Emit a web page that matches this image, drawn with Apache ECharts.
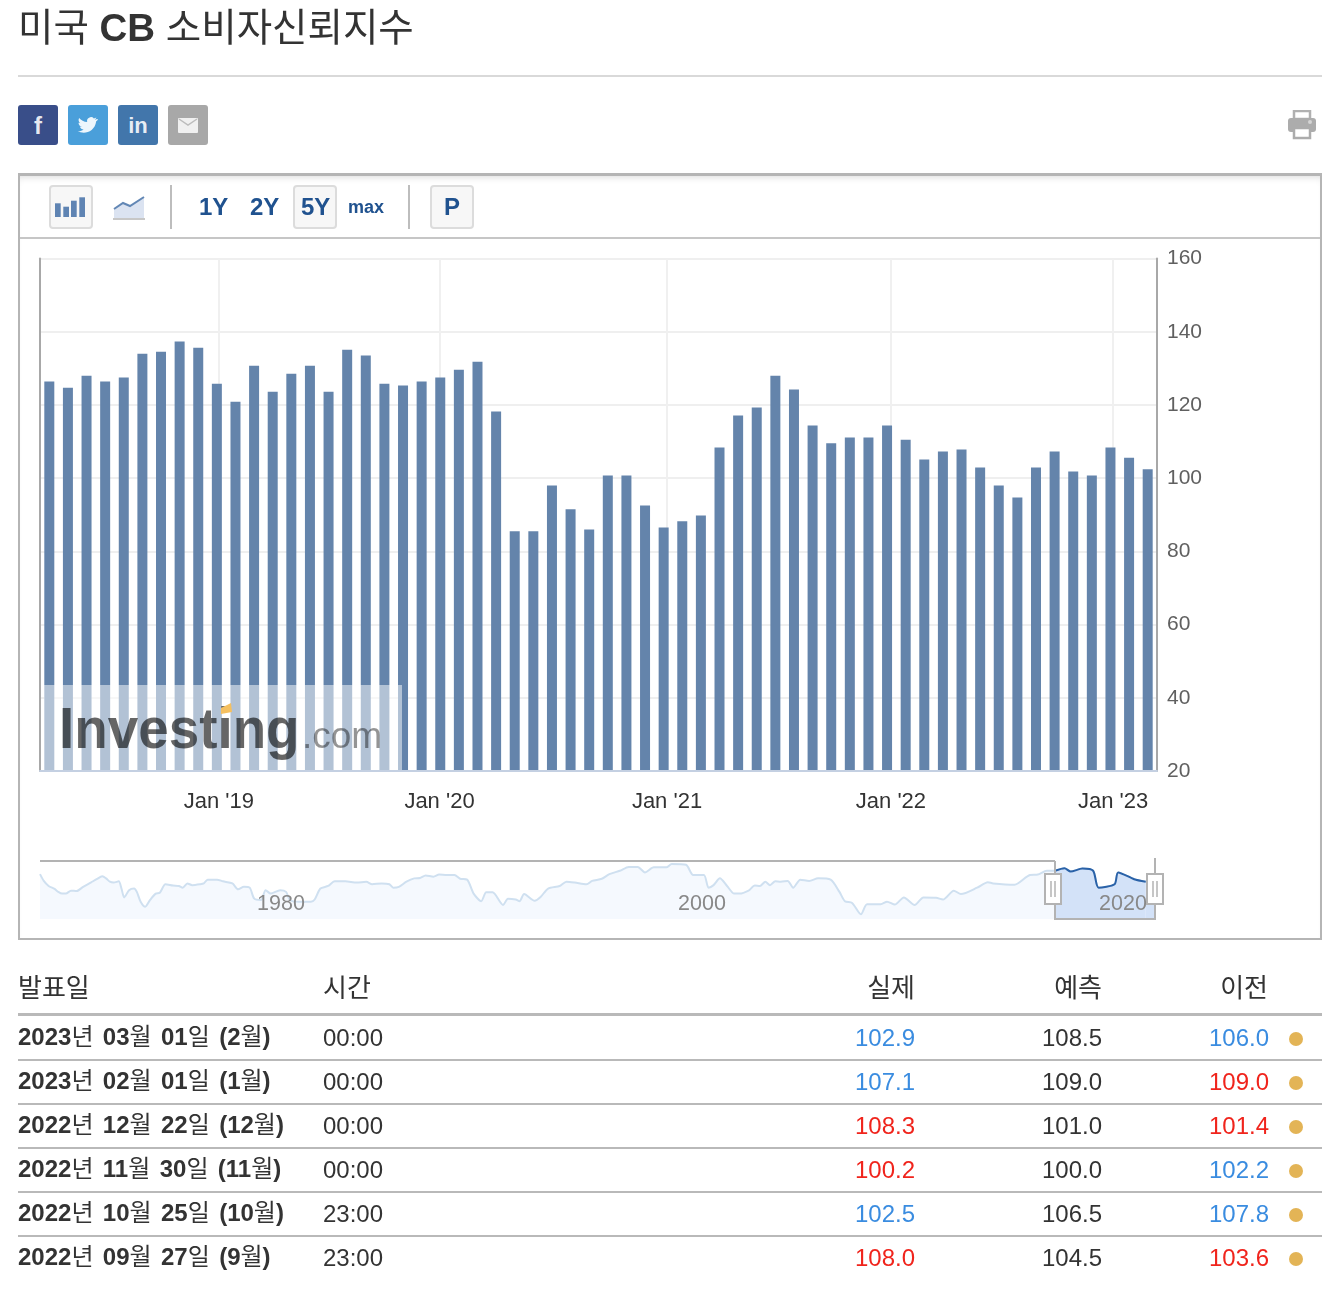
<!DOCTYPE html>
<html lang="ko"><head><meta charset="utf-8">
<script src="https://cdn.jsdelivr.net/npm/echarts@6/dist/echarts.min.js"></script>
<style>
html,body{margin:0;padding:0;background:#fff;width:1336px;height:1296px;overflow:hidden;font-family:"Liberation Sans","Noto Sans CJK KR",sans-serif;color:#333}
#chart{position:absolute;left:0;top:0;width:1336px;height:1296px}
.a{position:absolute;white-space:nowrap}
.btn{position:absolute;top:185px;width:40px;height:40px;border:2px solid #dcdcdc;border-radius:4px;background:#f7f7f7}
.sep{position:absolute;top:185px;width:2px;height:44px;background:#bdbdbd}
.rng{position:absolute;top:192px;line-height:30px;font-weight:bold;color:#20528f;font-size:24px}
.soc{position:absolute;top:105px;width:40px;height:40px;border-radius:3px;color:rgba(255,255,255,.88);text-align:center}
.rule{position:absolute;left:18px;width:1304px;background:#b9b9b9}
.cell{position:absolute;line-height:30px;font-size:24px;white-space:nowrap}
.dot{position:absolute;width:14px;height:14px;border-radius:50%;background:#e3b456;left:1289px}
.dt{word-spacing:2.700px}
.dt b{font-weight:bold}.dt span{font-weight:normal}
</style></head><body>
<div id="chart"></div>
<div class="a" style="left:18px;top:5px;font-size:38.500px;line-height:46px">미국 <b>CB</b> 소비자신뢰지수</div>
<div class="a" style="left:18px;top:75px;width:1304px;height:2px;background:#d9d9d9"></div>

<div class="soc" style="left:18px;background:#394e89;font:bold 24px/42px 'Liberation Sans'">f</div>
<div class="soc" style="left:68px;background:#4a9fda"><svg width="40" height="40" viewBox="0 0 40 40"><path d="M29 14c-.8.4-1.500.5-2.300.6.800-.5 1.400-1.200 1.700-2.100-.8.5-1.600.8-2.500 1a3.900 3.900 0 0 0-6.700 3.600c-3.300-.2-6.200-1.700-8.100-4.100-1 1.800-.5 4 1.200 5.200-.6 0-1.200-.2-1.800-.5 0 1.900 1.300 3.500 3.200 3.900-.6.200-1.200.2-1.800.1.500 1.600 2 2.700 3.700 2.700-1.700 1.300-3.700 1.900-5.900 1.700 6 3.800 17 1.300 18.500-9.800.8-.6 1.400-1.300 1.800-2.100z" fill="#fff" opacity=".9"/></svg></div>
<div class="soc" style="left:118px;background:#4276ab;font:bold 22px/42px 'Liberation Sans'">in</div>
<div class="soc" style="left:168px;background:#a8a8a8"><svg width="40" height="40" viewBox="0 0 40 40"><rect x="10" y="13" width="20" height="15" rx="1" fill="#f0f0f0"/><path d="M11 14l9 6 9-6" fill="none" stroke="#bcbcbc" stroke-width="1.500"/></svg></div>
<svg class="a" style="left:1287px;top:110px;filter:blur(.5px)" width="30" height="30" viewBox="0 0 30 30"><rect x="7" y="1" width="16" height="8" fill="none" stroke="#b0b0b0" stroke-width="2.500"/><rect x="1" y="8" width="28" height="14" rx="3" fill="#acacac"/><circle cx="23" cy="12" r="2" fill="#d5d5d5"/><rect x="7" y="18" width="16" height="10" fill="#fff" stroke="#acacac" stroke-width="2.500"/></svg>

<div class="a" style="left:18px;top:173px;width:1300px;height:762px;border:2px solid #b5b5b5;border-top:3px solid #b5b5b5;box-shadow:inset 0 6px 8px -6px rgba(0,0,0,.18)"></div>
<div class="a" style="left:20px;top:237px;width:1300px;height:2px;background:#c6c6c6"></div>
<div class="btn" style="left:49px"><svg width="40" height="40" viewBox="0 0 40 40"><g fill="#5f84b3"><rect x="4" y="16.300" width="5.700" height="13.700"/><rect x="12.300" y="19.700" width="5.700" height="10.300"/><rect x="20" y="13.700" width="5.700" height="16.300"/><rect x="28.300" y="10.300" width="5.700" height="19.700"/></g></svg></div>
<svg class="a" style="left:113px;top:195px" width="32" height="26" viewBox="0 0 32 26"><path d="M1 14l9-6 7 3L31 2v22H1z" fill="#dbe3f1"/><path d="M1 14l9-6 7 3L31 2" fill="none" stroke="#6287b5" stroke-width="2"/><rect x="0" y="23" width="32" height="2" fill="#c7c7c7"/></svg>
<div class="sep" style="left:170px"></div>
<div class="rng" style="left:199px">1Y</div>
<div class="rng" style="left:250px">2Y</div>
<div class="btn" style="left:293px"></div>
<div class="rng" style="left:301px">5Y</div>
<div class="rng" style="left:348px;font-size:18px">max</div>
<div class="sep" style="left:408px"></div>
<div class="btn" style="left:430px"></div>
<div class="rng" style="left:444px">P</div>

<div id="table"></div>

<script>
const monthLabels=['2018-04','2018-05','2018-06','2018-07','2018-08','2018-09','2018-10','2018-11','2018-12','2019-01','2019-02','2019-03','2019-04','2019-05','2019-06','2019-07','2019-08','2019-09','2019-10','2019-11','2019-12','2020-01','2020-02','2020-03','2020-04','2020-05','2020-06','2020-07','2020-08','2020-09','2020-10','2020-11','2020-12','2021-01','2021-02','2021-03','2021-04','2021-05','2021-06','2021-07','2021-08','2021-09','2021-10','2021-11','2021-12','2022-01','2022-02','2022-03','2022-04','2022-05','2022-06','2022-07','2022-08','2022-09','2022-10','2022-11','2022-12','2023-01','2023-02','2023-03'];
const barValues=[126.4,124.7,128,126.4,127.5,134,134.5,137.3,135.6,125.8,120.9,130.7,123.6,128.5,130.7,123.6,135.1,133.5,125.8,125.3,126.4,127.5,129.6,131.8,118.2,85.5,85.5,98,91.5,86,100.7,100.7,92.5,86.5,88.2,89.8,108.4,117.1,119.3,128,124.2,114.4,109.5,111.1,111.1,114.4,110.5,105.1,107.3,107.8,102.9,98,94.7,102.9,107.3,101.8,100.7,108.4,105.6,102.4];
const yMin=20,yMax=160,yStep=20;
const xTickLabels=["Jan '19","Jan '20","Jan '21","Jan '22","Jan '23"];
const xTickSlots=[9.61,21.46,33.68,45.71,57.64];
const navYears=[1968.55,1968.73,1968.96,1969.24,1969.42,1969.6,1969.78,1970.02,1970.29,1970.6,1970.96,1971.24,1971.51,1971.69,1971.87,1972.05,1972.29,1972.42,1972.55,1972.78,1973.02,1973.15,1973.33,1973.55,1973.78,1974.05,1974.24,1974.51,1974.87,1975.15,1975.33,1975.55,1975.78,1976.15,1976.33,1976.51,1976.96,1977.24,1977.69,1977.96,1978.24,1978.51,1978.73,1979.05,1979.27,1979.51,1979.96,1980.24,1980.42,1980.87,1981.42,1981.6,1981.87,1982.24,1982.55,1983.05,1983.6,1984.05,1984.33,1984.78,1985.15,1985.33,1985.6,1985.96,1986.33,1986.6,1986.87,1987.24,1987.51,1987.87,1988.24,1988.51,1988.84,1989.15,1989.51,1989.75,1990.05,1990.55,1990.78,1991.15,1991.33,1991.55,1992.05,1992.33,1992.69,1993.24,1993.56,1993.96,1994.51,1994.78,1995.24,1995.6,1996.1,1996.52,1996.95,1997.29,1997.71,1998.31,1998.56,1999.24,1999.58,2000.09,2000.31,2000.55,2000.85,2001.19,2001.53,2001.78,2002.21,2002.51,2002.75,2003.01,2003.23,2003.48,2003.74,2004.07,2004.33,2004.67,2005.09,2005.52,2006.11,2006.53,2006.79,2007.13,2007.55,2007.84,2008.49,2008.79,2009.16,2009.59,2010.1,2010.52,2011.12,2011.45,2011.96,2012.3,2013.07,2013.58,2013.83,2014.85,2015.58,2015.95,2016.38,2016.77,2017.22,2017.51,2018.07,2018.58,2018.84,2019.6,2019.77,2020.53,2021.08];
const navValues=[118,102,90,83,76,72,72,79,78,88,98,106,113,108,100,98,101,84,63,80,84,76,53,41,57,72,74,94,91,90,86,96,92,94,96,105,105,101,96,82,88,86,60,57,80,72,80,76,57,53,53,58,84,90,101,101,98,100,94,96,94,86,88,100,108,109,115,112,117,116,116,107,105,72,54,75,75,45,60,58,54,71,55,64,84,90,100,98,94,102,107,118,126,135,135,122,134,134,142,140,116,116,86,92,108,90,72,72,79,91,90,100,92,101,100,102,86,105,102,108,105,76,54,50,23,47,47,53,46,63,45,63,62,58,79,71,86,99,96,93,116,117,126,126,132,124,131,126,86,94,122,106,100];
const navTickYears=[1980,2000,2020];
const navSelectedFrom=2016.77;
const tableHeaders=['발표일','시간','실제','예측','이전'];
const rowDates=['2023년 03월 01일 (2월)','2023년 02월 01일 (1월)','2022년 12월 22일 (12월)','2022년 11월 30일 (11월)','2022년 10월 25일 (10월)','2022년 09월 27일 (9월)'];
const rowTimes=['00:00','00:00','00:00','00:00','23:00','23:00'];
const rowActual=['102.9','107.1','108.3','100.2','102.5','108.0'];
const rowForecast=['108.5','109.0','101.0','100.0','106.5','104.5'];
const rowPrevious=['106.0','109.0','101.4','102.2','107.8','103.6'];
const BLUE='#3a8ce0',RED='#f0241c';
const actualColors=[BLUE,BLUE,RED,RED,BLUE,RED];
const prevColors=[BLUE,RED,RED,BLUE,BLUE,RED];

// table
let h='';
const headX=[['left:18px'],['left:323px'],['right:421px'],['right:234px'],['right:68px']];
tableHeaders.forEach((t,i)=>{h+=`<div class="cell" style="${headX[i]};top:973px;font-size:26px">${t}</div>`});
h+=`<div class="rule" style="top:1013px;height:3px"></div>`;
rowDates.forEach((d,i)=>{
  const y=1023+44*i;
  const dd=d.replace(/[\d()]+/g,m=>`<b>${m}</b>`);
  h+=`<div class="cell dt" style="left:18px;top:${y-1}px"><span>${dd}</span></div>`;
  h+=`<div class="cell" style="left:323px;top:${y}px">${rowTimes[i]}</div>`;
  h+=`<div class="cell" style="right:421px;top:${y}px;color:${actualColors[i]}">${rowActual[i]}</div>`;
  h+=`<div class="cell" style="right:234px;top:${y}px">${rowForecast[i]}</div>`;
  h+=`<div class="cell" style="right:67px;top:${y}px;color:${prevColors[i]}">${rowPrevious[i]}</div>`;
  h+=`<div class="dot" style="top:${y+9}px"></div>`;
  if(i<5)h+=`<div class="rule" style="top:${1059+44*i}px;height:2px"></div>`;
});
document.getElementById('table').innerHTML=h;

const selIdx=navYears.indexOf(navSelectedFrom);
const navAll=navYears.map((y,i)=>[y,navValues[i]]);
const navSel=navAll.slice(selIdx);
const FONT='"Liberation Sans","Noto Sans CJK KR",sans-serif';
const chart=echarts.init(document.getElementById('chart'),null,{renderer:'canvas'});
chart.setOption({
  animation:false,
  grid:[
    {left:40,right:179,top:258.5,height:512.5},
    {left:40,right:181,top:861,height:58}
  ],
  xAxis:[
    {type:'category',gridIndex:0,data:monthLabels,boundaryGap:true,axisTick:{show:false},axisLabel:{show:false},
     axisLine:{show:true,onZero:false,lineStyle:{color:'#c4d0e2',width:2}},splitLine:{show:false},z:3},
    {type:'value',gridIndex:0,min:0,max:60,position:'bottom',axisLine:{show:false,onZero:false},
     axisTick:{show:false,customValues:xTickSlots},
     axisLabel:{show:true,customValues:xTickSlots,margin:20,fontSize:22,color:'#333',fontFamily:FONT,showMinLabel:true,showMaxLabel:true,
       formatter:v=>xTickLabels[xTickSlots.indexOf(v)]||''},
     splitLine:{show:true,lineStyle:{color:'#f0f0f0',width:2}}},
    {type:'value',gridIndex:1,min:1968.55,max:2021.52,position:'bottom',z:6,axisLine:{show:false,onZero:false},
     axisTick:{show:false,customValues:navTickYears},
     axisLabel:{show:true,inside:true,margin:4,customValues:navTickYears,fontSize:21.5,color:'#888',fontFamily:FONT,formatter:v=>String(v)},
     splitLine:{show:false}}
  ],
  yAxis:[
    {type:'value',gridIndex:0,position:'right',min:yMin,max:yMax,interval:yStep,
     axisLine:{show:true,onZero:false,lineStyle:{color:'#a8a8a8',width:2}},axisTick:{show:false},
     axisLabel:{margin:10,fontSize:21,color:'#606060',fontFamily:FONT},
     splitLine:{show:true,lineStyle:{color:'#efefef',width:2}}},
    {type:'value',gridIndex:0,position:'left',min:yMin,max:yMax,interval:yStep,
     axisLine:{show:true,onZero:false,lineStyle:{color:'#a8a8a8',width:2}},axisTick:{show:false},axisLabel:{show:false},splitLine:{show:false}},
    {type:'value',gridIndex:1,min:12,max:149,show:false,splitLine:{show:false}}
  ],
  series:[
    {type:'bar',name:'CB',xAxisIndex:0,yAxisIndex:0,data:barValues,barWidth:10,itemStyle:{color:'#6484ab'},z:2},
    {type:'line',name:'nav',xAxisIndex:2,yAxisIndex:2,data:navAll,smooth:0.25,showSymbol:false,silent:true,
     lineStyle:{color:'#cfe0f0',width:2},areaStyle:{color:'#f5f9fe',opacity:1},z:2},
    {type:'line',name:'navSel',xAxisIndex:2,yAxisIndex:2,data:navSel,smooth:0.25,showSymbol:false,silent:true,
     lineStyle:{color:'#2a62a8',width:2},areaStyle:{color:'#d3e2f8',opacity:1},z:3,
     markArea:{silent:true,itemStyle:{color:'#d3e2f8'},data:[[{xAxis:navYears[navYears.length-1],yAxis:12},{xAxis:2021.52,yAxis:navValues[navValues.length-1]}]]}}
  ],
  graphic:[
    {type:'rect',shape:{x:44,y:685,width:358,height:85},style:{fill:'rgba(255,255,255,.5)'},z:10,silent:true},
    {type:'text',x:59,y:761,scaleX:.945,style:{text:'Investing',font:'bold 58px "Liberation Sans"',fill:'rgba(0,0,0,.6)',verticalAlign:'bottom'},z:11,silent:true},
    {type:'text',x:302,y:756,style:{text:'.com',font:'37px "Liberation Sans"',fill:'rgba(0,0,0,.42)',verticalAlign:'bottom'},z:11,silent:true},
    {type:'polygon',shape:{points:[[221,708],[231,703],[232,712],[221,714]]},style:{fill:'#f5c060'},z:12,silent:true},
    {type:'line',shape:{x1:40,y1:861,x2:1055,y2:861},style:{stroke:'#b3b3b3',lineWidth:2},z:20,silent:true},
    {type:'polyline',shape:{points:[[1055,861],[1055,919],[1155,919],[1155,858]]},style:{stroke:'#b3b3b3',lineWidth:2,fill:null},z:20,silent:true},
    {type:'rect',shape:{x:1045,y:874,width:16,height:30},style:{fill:'#fff',stroke:'#b3b3b3',lineWidth:2},z:21,silent:true},
    {type:'line',shape:{x1:1051,y1:881,x2:1051,y2:897},style:{stroke:'#b3b3b3',lineWidth:1.500},z:22,silent:true},
    {type:'line',shape:{x1:1055,y1:881,x2:1055,y2:897},style:{stroke:'#b3b3b3',lineWidth:1.500},z:22,silent:true},
    {type:'rect',shape:{x:1147,y:874,width:16,height:30},style:{fill:'#fff',stroke:'#b3b3b3',lineWidth:2},z:21,silent:true},
    {type:'line',shape:{x1:1153,y1:881,x2:1153,y2:897},style:{stroke:'#b3b3b3',lineWidth:1.500},z:22,silent:true},
    {type:'line',shape:{x1:1157,y1:881,x2:1157,y2:897},style:{stroke:'#b3b3b3',lineWidth:1.500},z:22,silent:true}
  ]
});
</script>
</body></html>
